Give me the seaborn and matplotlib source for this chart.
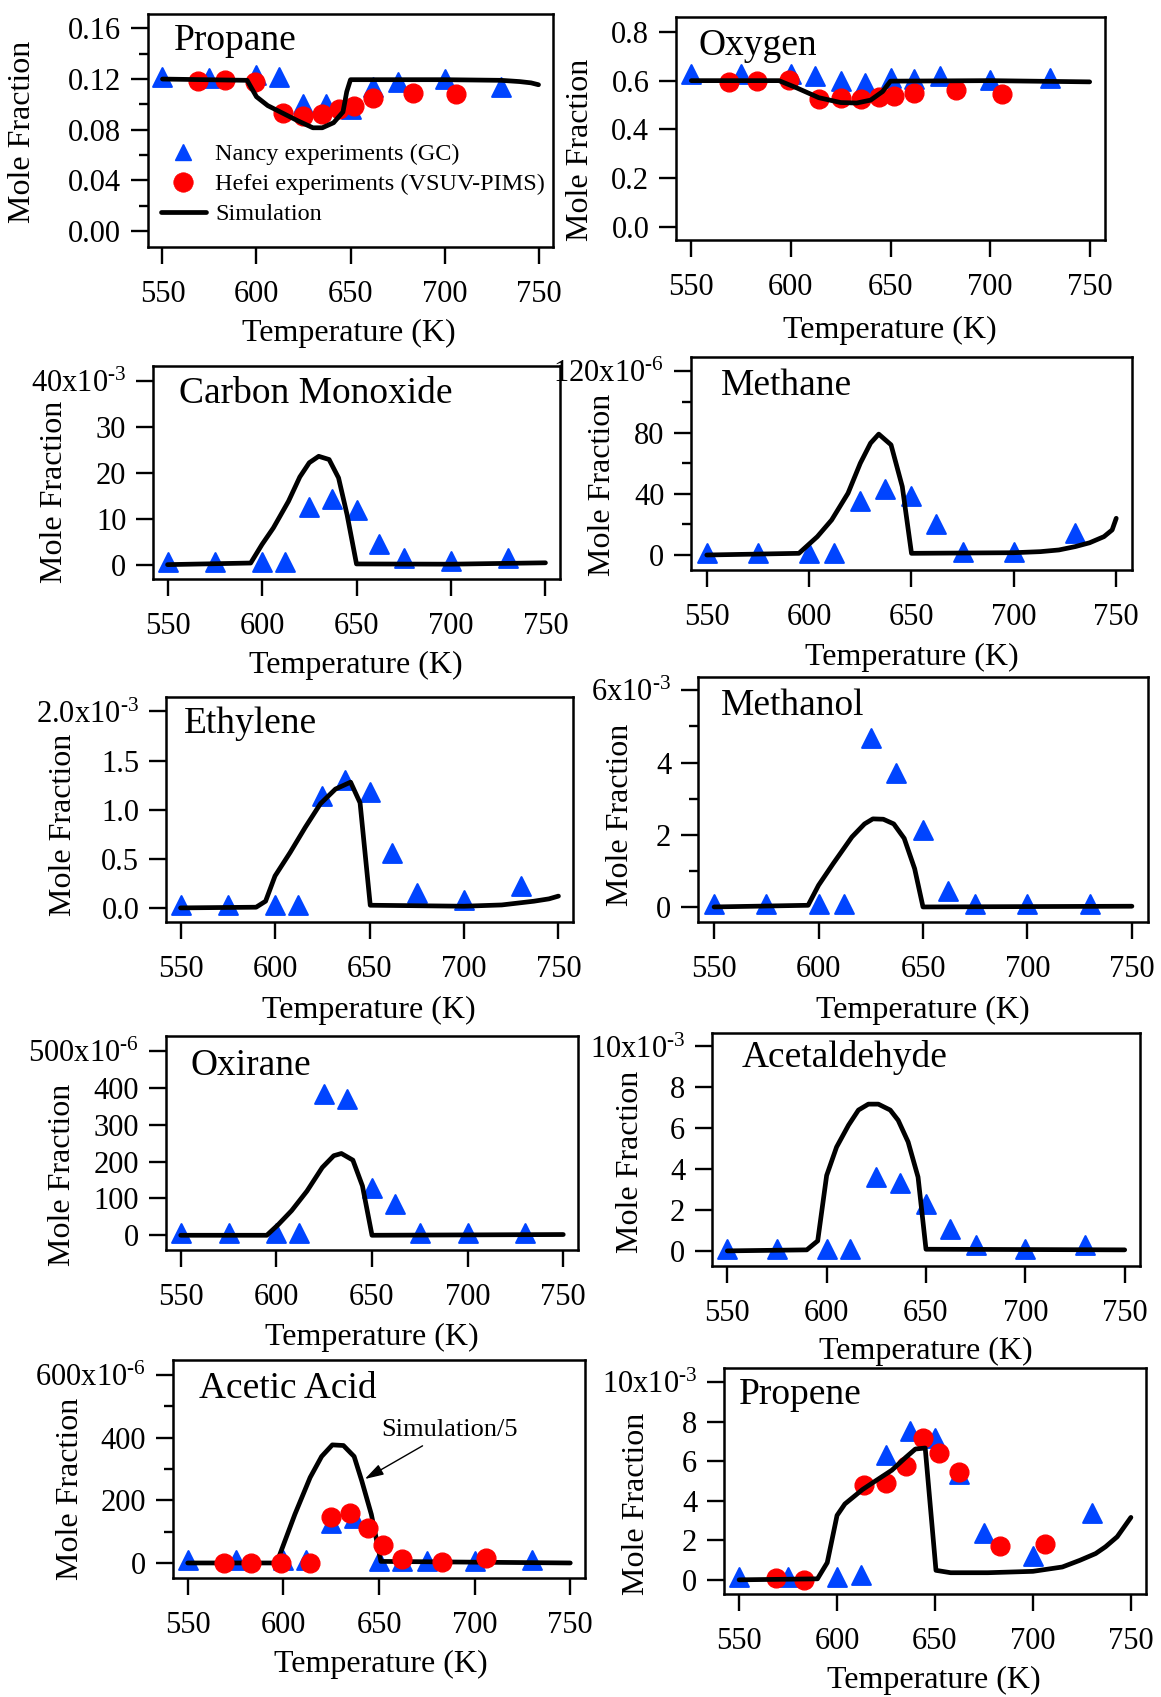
import matplotlib
matplotlib.use("Agg")
import matplotlib.pyplot as plt
import seaborn as sns
from matplotlib.lines import Line2D

# ---------------- data ----------------
T_nancy = [550, 575, 600, 612, 625, 637, 650, 662, 675, 700, 730]
T_hefei = [569, 583, 599, 614, 625, 635, 644, 652, 662, 683, 706]
T_hefei_propene = [569, 583, 614, 625, 635, 644, 652, 662, 683, 706]

propane_nancy = [0.122, 0.121, 0.123, 0.1217, 0.1005, 0.100, 0.096, 0.114, 0.118, 0.120, 0.114]
propane_hefei = [0.1185, 0.1195, 0.118, 0.093, 0.091, 0.0926, 0.0965, 0.099, 0.105, 0.109, 0.1085]
propane_sim_T = [550, 595, 600, 606, 614, 622, 630, 635, 641, 646, 648, 650, 700, 730, 740, 746, 750]
propane_sim = [0.120, 0.119, 0.106, 0.099, 0.093, 0.087, 0.0815, 0.0815, 0.0855, 0.094, 0.110, 0.1195,
               0.1195, 0.119, 0.118, 0.117, 0.1155]

oxygen_nancy = [0.629, 0.629, 0.629, 0.618, 0.598, 0.591, 0.611, 0.607, 0.618, 0.604, 0.611]
oxygen_hefei = [0.593, 0.598, 0.604, 0.525, 0.529, 0.525, 0.533, 0.536, 0.550, 0.563, 0.547]
oxygen_sim_T = [550, 594, 603, 614, 625, 633, 640, 646, 650, 700, 750]
oxygen_sim = [0.600, 0.600, 0.570, 0.530, 0.510, 0.508, 0.520, 0.555, 0.598, 0.600, 0.595]

co_nancy = [0.6, 0.6, 0.6, 0.6, 12.5, 14.2, 12.0, 4.5, 1.5, 0.9, 1.5]          # x10^-3
co_sim_T = [550, 594, 600, 606, 614, 620, 625, 630, 635.5, 640.5, 645, 650, 700, 750]
co_sim = [0.0, 0.35, 4.4, 8.0, 13.8, 19.1, 22.2, 23.6, 22.9, 18.9, 10.9, 0.15, 0.1, 0.4]

methane_nancy = [1.5, 1.5, 1.5, 1.5, 35.6, 43.4, 38.8, 20.1, 2.2, 2.2, 14.4]   # x10^-6
methane_sim_T = [550, 595, 604, 611, 619, 625, 630, 634, 640, 645.5, 650, 700, 713, 722, 730,
                 737, 744, 748, 750]
methane_sim = [0, 1.1, 12, 22.9, 40.4, 60, 73.1, 79, 72, 44.7, 1.1, 1.5, 2.2, 3.3, 5.5,
               8.0, 12, 16.4, 24]

ethylene_nancy = [0.034, 0.034, 0.034, 0.03, 1.135, 1.306, 1.18, 0.554, 0.154, 0.085, 0.222]  # x10^-3
ethylene_sim_T = [550, 590, 595, 600, 608, 616, 624, 632, 640, 645, 650.4, 700, 720, 737, 745, 750]
ethylene_sim = [0, 0.007, 0.068, 0.325, 0.564, 0.82, 1.06, 1.21, 1.28, 1.07, 0.027, 0.017, 0.03,
                0.068, 0.092, 0.12]

methanol_nancy = [0.09, 0.09, 0.09, 0.09, 4.68, 3.70, 2.13, 0.44, 0.09, 0.09, 0.09]  # x10^-3
methanol_sim_T = [550, 595, 600, 607, 616, 622, 626, 631, 636, 641, 646, 650, 750]
methanol_sim = [0, 0.046, 0.60, 1.20, 1.94, 2.30, 2.44, 2.43, 2.30, 1.90, 1.06, 0.0, 0.02]

oxirane_nancy = [7, 7, 7, 7, 384, 370, 129, 86, 7, 7, 7]                       # x10^-6
oxirane_sim_T = [550, 595, 601, 608, 616, 624, 630, 634, 640, 645, 650, 750]
oxirane_sim = [0, 0, 29, 67, 120, 184, 216, 222, 204, 134, 0, 2]

acetaldehyde_nancy = [0.11, 0.11, 0.11, 0.11, 3.61, 3.31, 2.30, 1.07, 0.30, 0.11, 0.30]  # x10^-3
acetaldehyde_sim_T = [550, 590, 595.5, 600, 605, 611, 616, 621, 626, 632, 636, 641, 646, 650, 750]
acetaldehyde_sim = [0, 0.05, 0.49, 3.69, 5.08, 6.15, 6.89, 7.18, 7.18, 6.89, 6.39, 5.33, 3.61, 0.08, 0.05]

acetic_nancy = [10, 10, 10, 10, 128, 145, 5, 5, 5, 5, 10]                      # x10^-6
acetic_hefei = [0, 0, 0, 0, 147, 161, 112, 57, 13, 3, 16]
acetic_sim_T = [550, 596.5, 606, 614, 620, 625.6, 631.4, 637, 641, 646, 651, 750]
acetic_sim = [0, 0, 155, 273, 340, 377, 375, 340, 262, 155, 5, 0]               # simulation/5

propene_nancy = [0.14, 0.14, 0.14, 0.22, 6.31, 7.51, 7.18, 5.34, 2.39, 1.19, 3.38]   # x10^-3
propene_hefei = [0.09, 0.0, 4.78, 4.88, 5.77, 7.17, 6.40, 5.46, 1.72, 1.79]
propene_sim_T = [550, 590, 595, 600, 604, 613, 620, 628, 635, 640, 645, 650.5, 658, 677, 700,
                 715, 724, 732, 737, 743, 750]
propene_sim = [0, 0.05, 0.87, 3.26, 3.84, 4.57, 5.03, 5.55, 6.19, 6.62, 6.67, 0.48, 0.36, 0.36, 0.43,
               0.65, 0.99, 1.33, 1.67, 2.18, 3.16]

x_ticks = [550, 600, 650, 700, 750]
x_labels = ["550", "600", "650", "700", "750"]
x_label = "Temperature (K)"
y_label = "Mole Fraction"

# ---------------- style ----------------
sns.set_theme(style="ticks")
plt.rcParams["font.family"] = ["Liberation Serif", "DejaVu Serif"]
plt.rcParams["mathtext.fontset"] = "custom"
plt.rcParams["mathtext.rm"] = "Liberation Serif"
plt.rcParams["mathtext.it"] = "Liberation Serif"
plt.rcParams["mathtext.default"] = "regular"
plt.rcParams["text.color"] = "black"
plt.rcParams["axes.labelcolor"] = "black"
plt.rcParams["xtick.color"] = "black"
plt.rcParams["ytick.color"] = "black"

BLUE = "#0044ff"
RED = "#ff0000"
W, H = 1161, 1697
TICK_FS = 22
LAB_FS = 23
TITLE_FS = 27
HY = "\u2010"

fig = plt.figure(figsize=(W / 100, H / 100), dpi=100)


def exp_label(mant, e):
    return mant + "x10$^{" + HY + e + "}$"


panels = [
    dict(name="Propane", box=(148, 14, 553, 247), title=(174, 50), ylab=(23, 132), xlab=(349, 333),
         ylim=(-0.0127, 0.1714), yt=[0, 0.04, 0.08, 0.12, 0.16],
         ytl=["0.00", "0.04", "0.08", "0.12", "0.16"], minor=[0.02, 0.06, 0.10, 0.14],
         nancy=propane_nancy, hefei=propane_hefei, th=T_hefei, st=propane_sim_T, sv=propane_sim),
    dict(name="Oxygen", box=(676, 17, 1105, 240), title=(698, 55), ylab=(581, 150), xlab=(890, 330),
         ylim=(-0.0547, 0.8615), yt=[0, 0.2, 0.4, 0.6, 0.8],
         ytl=["0.0", "0.2", "0.4", "0.6", "0.8"], minor=[],
         nancy=oxygen_nancy, hefei=oxygen_hefei, th=T_hefei, st=oxygen_sim_T, sv=oxygen_sim),
    dict(name="Carbon Monoxide", box=(153, 366, 560, 579), title=(179, 403), ylab=(55, 492), xlab=(356, 665),
         ylim=(-3.13, 43.27), yt=[0, 10, 20, 30, 40],
         ytl=["0", "10", "20", "30", exp_label("40", "3")], minor=[],
         nancy=co_nancy, hefei=None, th=None, st=co_sim_T, sv=co_sim),
    dict(name="Methane", box=(691, 357, 1132, 570), title=(721, 395), ylab=(602, 485), xlab=(912, 657),
         ylim=(-9.8, 129.4), yt=[0, 40, 80, 120],
         ytl=["0", "40", "80", exp_label("120", "6")], minor=[20, 60, 100],
         nancy=methane_nancy, hefei=None, th=None, st=methane_sim_T, sv=methane_sim),
    dict(name="Ethylene", box=(166, 697, 573, 922), title=(184, 733), ylab=(64, 825), xlab=(369, 1010),
         ylim=(-0.1436, 2.147), yt=[0, 0.5, 1.0, 1.5, 2.0],
         ytl=["0.0", "0.5", "1.0", "1.5", exp_label("2.0", "3")], minor=[],
         nancy=ethylene_nancy, hefei=None, th=None, st=ethylene_sim_T, sv=ethylene_sim),
    dict(name="Methanol", box=(698, 677, 1148, 922), title=(721, 715), ylab=(621, 815), xlab=(923, 1010),
         ylim=(-0.417, 6.37), yt=[0, 2, 4, 6],
         ytl=["0", "2", "4", exp_label("6", "3")], minor=[1, 3, 5],
         nancy=methanol_nancy, hefei=None, th=None, st=methanol_sim_T, sv=methanol_sim),
    dict(name="Oxirane", box=(166, 1036, 578, 1250), title=(190, 1075), ylab=(62, 1175), xlab=(372, 1337),
         ylim=(-40, 541), yt=[0, 100, 200, 300, 400, 500],
         ytl=["0", "100", "200", "300", "400", exp_label("500", "6")], minor=[],
         nancy=oxirane_nancy, hefei=None, th=None, st=oxirane_sim_T, sv=oxirane_sim),
    dict(name="Acetaldehyde", box=(712, 1033, 1140, 1266), title=(742, 1067), ylab=(630, 1162), xlab=(926, 1351),
         ylim=(-0.74, 10.66), yt=[0, 2, 4, 6, 8, 10],
         ytl=["0", "2", "4", "6", "8", exp_label("10", "3")], minor=[],
         nancy=acetaldehyde_nancy, hefei=None, th=None, st=acetaldehyde_sim_T, sv=acetaldehyde_sim),
    dict(name="Acetic Acid", box=(173, 1360, 585, 1578), title=(199, 1398), ylab=(70, 1489), xlab=(381, 1664),
         ylim=(-48, 648), yt=[0, 200, 400, 600],
         ytl=["0", "200", "400", exp_label("600", "6")], minor=[100, 300, 500],
         nancy=acetic_nancy, hefei=acetic_hefei, th=T_hefei, st=acetic_sim_T, sv=acetic_sim),
    dict(name="Propene", box=(724, 1368, 1146, 1594), title=(739, 1404), ylab=(637, 1504), xlab=(934, 1680),
         ylim=(-0.717, 10.72), yt=[0, 2, 4, 6, 8, 10],
         ytl=["0", "2", "4", "6", "8", exp_label("10", "3")], minor=[],
         nancy=propene_nancy, hefei=propene_hefei, th=T_hefei_propene, st=propene_sim_T, sv=propene_sim),
]

XLIM = (542.3, 757.7)
MS = 13.5

for p in panels:
    L, T, R, B = p["box"]
    ax = fig.add_axes([L / W, 1 - B / H, (R - L) / W, (B - T) / H])
    sim_z = 2.5 if p["name"] == "Acetic Acid" else 4
    sns.scatterplot(x=T_nancy, y=p["nancy"], marker="^", s=MS ** 2, color=BLUE,
                    edgecolor=BLUE, linewidth=1.5, ax=ax, zorder=2, legend=False, clip_on=False)
    if p["hefei"] is not None:
        sns.scatterplot(x=p["th"], y=p["hefei"], marker="o", s=MS ** 2, color=RED,
                        edgecolor=RED, linewidth=1.0, ax=ax, zorder=3, legend=False, clip_on=False)
    sns.lineplot(x=p["st"], y=p["sv"], color="black", linewidth=3.4, ax=ax, zorder=sim_z,
                 estimator=None, sort=False, legend=False, solid_capstyle="round",
                 solid_joinstyle="round")
    ax.set_xlim(*XLIM)
    ax.set_ylim(*p["ylim"])
    ax.set_xticks(x_ticks, x_labels)
    ax.set_yticks(p["yt"], p["ytl"])
    ax.set_yticks(p["minor"], minor=True)
    for s in ax.spines.values():
        s.set_visible(True)
        s.set_linewidth(1.8)
        s.set_color("black")
    ax.tick_params(axis="both", which="major", direction="out", length=12.2, width=1.7,
                   labelsize=TICK_FS, colors="black", top=False, right=False)
    ax.tick_params(axis="x", which="major", pad=11.5)
    ax.tick_params(axis="y", which="major", pad=7)
    ax.tick_params(axis="y", which="minor", direction="out", length=6.8, width=1.7, left=True)
    ax.tick_params(axis="x", which="minor", bottom=False)
    ax.set_facecolor("white")
    ax.grid(False)

    ax.set_xlabel(x_label, fontsize=LAB_FS, va="center")
    ax.xaxis.set_label_coords((p["xlab"][0] - L) / (R - L), (B - p["xlab"][1]) / (B - T))
    ax.set_ylabel(y_label, fontsize=LAB_FS, va="center")
    ax.yaxis.set_label_coords((p["ylab"][0] - L) / (R - L), (B - p["ylab"][1]) / (B - T))

    ax.text((p["title"][0] - L) / (R - L), (B - p["title"][1]) / (B - T), p["name"],
            transform=ax.transAxes, fontsize=TITLE_FS, ha="left", va="baseline", zorder=6)

    if p["name"] == "Propane":
        handles = [
            Line2D([], [], marker="^", color=BLUE, ls="none", ms=11, mew=1.0),
            Line2D([], [], marker="o", color=RED, ls="none", ms=14, mew=0.5),
            Line2D([], [], color="black", lw=3.4, solid_capstyle="round"),
        ]
        labels = ["Nancy experiments (GC)", "Hefei experiments (VSUV-PIMS)", "Simulation"]
        ax.legend(handles, labels, loc="upper left",
                  bbox_to_anchor=((161 - L) / (R - L), (B - 143) / (B - T)),
                  frameon=False, fontsize=17.5, borderpad=0, borderaxespad=0,
                  handlelength=1.85, handletextpad=0.37, labelspacing=0.33)

    if p["name"] == "Acetic Acid":
        ax.annotate("Simulation/5", xy=(642.6, 268), xytext=(687, 424), textcoords="data",
                    fontsize=19, ha="center", va="center", zorder=7,
                    arrowprops=dict(arrowstyle="-|>,head_length=0.6,head_width=0.18",
                                    color="black", lw=1.0, shrinkA=2, shrinkB=0))

fig.savefig("out.png", dpi=100)
